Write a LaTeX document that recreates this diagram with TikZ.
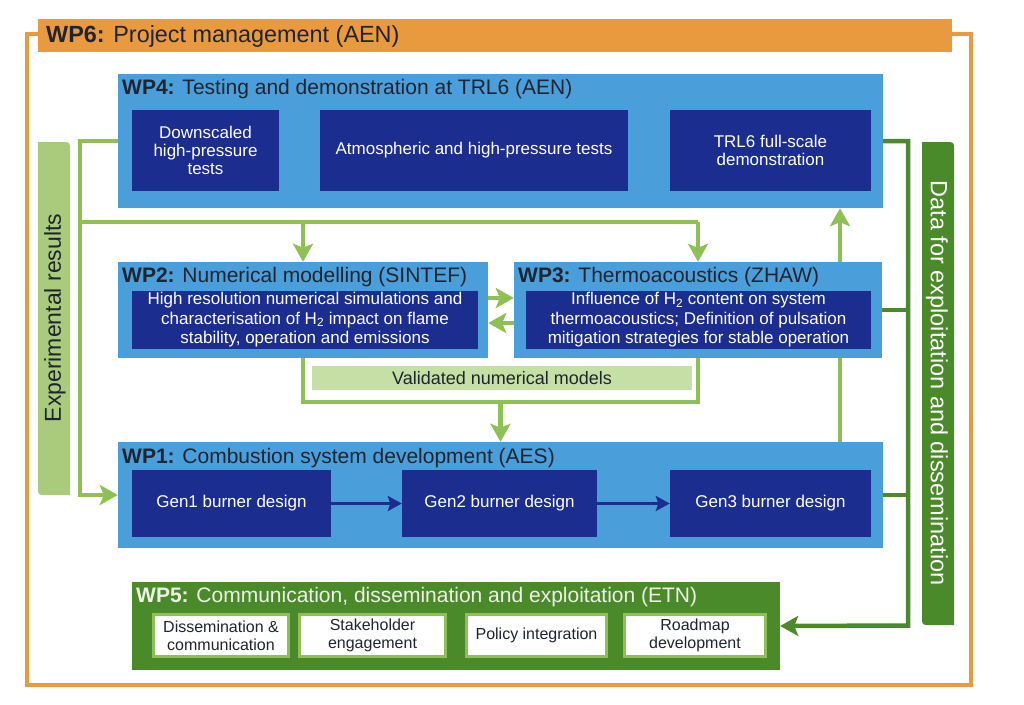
\documentclass[tikz,border=0pt]{standalone}
\usepackage{fontspec}
\setmainfont{Liberation Sans}
\usetikzlibrary{arrows.meta,calc}
\definecolor{orng}{HTML}{EA9A3E}
\definecolor{lblue}{HTML}{4A9FDA}
\definecolor{navy}{HTML}{1B2D8F}
\definecolor{lgreen}{HTML}{8FC055}
\definecolor{pillg}{HTML}{A9CB7B}
\definecolor{valg}{HTML}{C6DFA4}
\definecolor{dgreen}{HTML}{4B8A2A}
\definecolor{ttl}{HTML}{1F2430}
\definecolor{wtitle}{HTML}{EEF3E6}
\begin{document}
\begin{tikzpicture}[x=1pt,y=-1pt,
  wpbox/.style={fill=lblue, draw=none, inner sep=0pt},
  navybox/.style={fill=navy, text=white, align=center, inner sep=0pt, font=\fontsize{17}{18}\selectfont},
  navytext/.style={fill=navy, text=white, align=center, inner sep=0pt, font=\fontsize{17}{19.5}\selectfont},
  wptitle/.style={anchor=west, inner sep=0pt, text=ttl, font=\fontsize{21}{23}\selectfont},
  subbox/.style={fill=white, draw=lgreen, line width=3.5pt, align=center, inner sep=0pt, text=ttl, font=\fontsize{16}{18}\selectfont},
  lg/.style={draw=lgreen, line width=4.5pt},
  dg/.style={draw=dgreen, line width=4.5pt},
  nv/.style={draw=navy, line width=3pt},
  arr/.style={-{Stealth[length=18pt,width=20pt,inset=4pt]}},
  arrs/.style={-{Stealth[length=14pt,width=15pt,inset=2.5pt]}}
]
\useasboundingbox (0,0) rectangle (1024,704);
\fill[white] (0,0) rectangle (1024,704);

% WP6 frame
\node[fill=orng, minimum width=914pt, minimum height=33pt, inner sep=0pt] (wp6) at (495,35.5) {};
\node[anchor=west, inner sep=0pt, text=ttl, font=\fontsize{23.4}{25}\selectfont] (t6) at (46,36) {\textbf{WP6:} Project management (AEN)};
\draw[orng, line width=4.5pt] (38,34) -- (27,34) -- (27,685) -- (971,685) -- (971,34) -- (952,34);

% WP4
\node[wpbox, minimum width=765pt, minimum height=134pt] (wp4) at (500.5,141) {};
\node[wptitle] (t4) at (122,89) {\textbf{WP4:} Testing and demonstration at TRL6 (AEN)};
\node[navybox, minimum width=147pt, minimum height=81pt] (ds) at (205.5,150.5) {Downscaled\\high-pressure\\tests};
\node[navybox, minimum width=308pt, minimum height=81pt] (atm) at (474,150.5) {Atmospheric and high-pressure tests};
\node[navybox, minimum width=201pt, minimum height=81pt] (trl) at (770.5,150.5) {TRL6 full-scale\\demonstration};

% WP2
\node[wpbox, minimum width=370pt, minimum height=96pt] (wp2) at (303,310) {};
\node[wptitle] (t2) at (122,277) {\textbf{WP2:} Numerical modelling (SINTEF)};
\node[navytext, minimum width=346pt, minimum height=58pt] (hr) at (305,320) {High resolution numerical simulations and\\characterisation of H\textsubscript{2} impact on flame\\stability, operation and emissions};

% WP3
\node[wpbox, minimum width=368pt, minimum height=96pt] (wp3) at (698,310) {};
\node[wptitle] (t3) at (518,277) {\textbf{WP3:} Thermoacoustics (ZHAW)};
\node[navytext, minimum width=345pt, minimum height=58pt] (inf) at (698.5,320) {Influence of H\textsubscript{2} content on system\\thermoacoustics; Definition of pulsation\\mitigation strategies for stable operation};

% WP1
\node[wpbox, minimum width=765pt, minimum height=106pt] (wp1) at (500.5,495) {};
\node[wptitle] (t1) at (122,458) {\textbf{WP1:} Combustion system development (AES)};
\node[navybox, minimum width=199pt, minimum height=67pt] (g1) at (231.5,503.5) {Gen1 burner design};
\node[navybox, minimum width=195pt, minimum height=67pt] (g2) at (499.5,503.5) {Gen2 burner design};
\node[navybox, minimum width=201pt, minimum height=67pt] (g3) at (770.5,503.5) {Gen3 burner design};

% WP5
\node[fill=dgreen, minimum width=648pt, minimum height=88pt, inner sep=0pt] (wp5) at (456,626) {};
\node[anchor=west, inner sep=0pt, text=wtitle, font=\fontsize{21}{23}\selectfont] (t5) at (136,597) {\textbf{WP5:} Communication, dissemination and exploitation (ETN)};
\node[subbox, minimum width=135pt, minimum height=42pt] (s1) at (221,635.5) {Dissemination \&\\communication};
\node[subbox, minimum width=146pt, minimum height=42pt] (s2) at (372.5,635.5) {Stakeholder\\engagement};
\node[subbox, minimum width=140pt, minimum height=42pt] (s3) at (536.5,635.5) {Policy integration};
\node[subbox, minimum width=141pt, minimum height=42pt] (s4) at (695,635.5) {Roadmap\\development};

% Pills
\fill[pillg] (38,142) -- (62,142) .. controls (70,142) .. (70,150) -- (70,495) -- (46,495) .. controls (38,495) .. (38,487) -- cycle;
\node[rotate=90, inner sep=0pt, text=ttl, font=\fontsize{23}{25}\selectfont] (exp) at (55,318) {Experimental results};
\fill[dgreen] (922,142) -- (946,142) .. controls (954,142) .. (954,150) -- (954,625) -- (930,625) .. controls (922,625) .. (922,617) -- cycle;
\node[rotate=-90, inner sep=0pt, text=white, font=\fontsize{23.5}{25}\selectfont] (dat) at (937,383) {Data for exploitation and dissemination};

% Experimental results connectors
\coordinate (xl) at (80,222);
\coordinate (j2) at (wp2.north |- xl);
\coordinate (j3) at (wp3.north |- xl);
\draw[lg, arr] (wp4.west) -| (xl) |- (wp1.west);
\draw[lg] (xl) -- (j3);
\draw[lg, arr] (j2) -- (wp2.north);
\draw[lg, arr] (j3) -- (wp3.north);

% WP2 <-> WP3
\draw[lg, arr] ([yshift=12pt]wp2.east) -- ([yshift=12pt]wp3.west);
\draw[lg, arr] ([yshift=-13pt]wp3.west) -- ([yshift=-13pt]wp2.east);

% Validated loop
\coordinate (vb) at (wp1.north |- 0,402);
\draw[lg] (wp2.south) -- ++(0,44) -| (wp3.south);
\draw[lg, arr] (vb) -- (wp1.north);
\node[fill=valg, minimum width=380pt, minimum height=24pt, inner sep=0pt, text=ttl, font=\fontsize{18}{20}\selectfont] (val) at (502,378) {Validated numerical models};

% WP1 -> WP4 feedback
\draw[lg] ([xshift=339.5pt]wp1.north) -- ([xshift=142pt]wp3.south);
\draw[lg, arr] ([xshift=142pt]wp3.north) -- ([xshift=339.5pt]wp4.south);

% Gen arrows
\draw[nv, arrs] (g1) -- (g2);
\draw[nv, arrs] (g2) -- (g3);

% Data connectors
\coordinate (dgc) at (908,625.5);
\draw[dg, arr] (wp4.east) -| (dgc) -- (wp5.east);
\draw[dg] (wp3.east) -- (wp3.east -| dgc);
\draw[dg] (wp1.east) -- (wp1.east -| dgc);
\end{tikzpicture}
\end{document}
